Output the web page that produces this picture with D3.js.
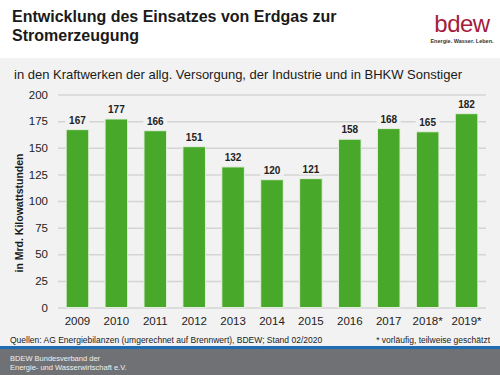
<!DOCTYPE html>
<html>
<head>
<meta charset="utf-8">
<script src="https://cdn.jsdelivr.net/npm/d3@7"></script>
<style>
  body { margin: 0; padding: 0; }
  svg { display: block; font-family: "Liberation Sans", Arial, sans-serif; }
</style>
</head>
<body>
<div id="chart-area"></div>
<script>
var years = ["2009", "2010", "2011", "2012", "2013", "2014", "2015", "2016", "2017", "2018*", "2019*"];
var values = [167, 177, 166, 151, 132, 120, 121, 158, 168, 165, 182];
var yTicks = [0, 25, 50, 75, 100, 125, 150, 175, 200];

var W = 500, H = 375;
var margin = { top: 94.5, right: 14, bottom: 67.5, left: 58 };

var svg = d3.select("#chart-area").append("svg")
    .attr("width", W)
    .attr("height", H);

// backgrounds
svg.append("rect").attr("width", W).attr("height", H).attr("fill", "#ffffff");
svg.append("rect").attr("x", 0).attr("y", 58).attr("width", W).attr("height", 290).attr("fill", "#f2f2f2");
svg.append("rect").attr("x", 0).attr("y", 346).attr("width", W).attr("height", 3).attr("fill", "#1f6db5");
svg.append("rect").attr("x", 0).attr("y", 349).attr("width", W).attr("height", 26).attr("fill", "#6f7175");

// title
svg.append("text").attr("x", 12).attr("y", 22)
    .attr("font-size", 16).attr("font-weight", "bold").attr("fill", "#1a1a1a")
    .text("Entwicklung des Einsatzes von Erdgas zur");
svg.append("text").attr("x", 12).attr("y", 41)
    .attr("font-size", 16).attr("font-weight", "bold").attr("fill", "#1a1a1a")
    .text("Stromerzeugung");

// logo
svg.append("text").attr("x", 462).attr("y", 32).attr("text-anchor", "middle")
    .attr("font-size", 24).attr("fill", "#a51c3d").attr("letter-spacing", -0.5)
    .text("bdew");
svg.append("text").attr("x", 462).attr("y", 43).attr("text-anchor", "middle")
    .attr("font-size", 5.5).attr("font-weight", "bold").attr("fill", "#333")
    .text("Energie. Wasser. Leben.");

// subtitle
svg.append("text").attr("x", 14).attr("y", 79)
    .attr("font-size", 13).attr("fill", "#1a1a1a")
    .text("in den Kraftwerken der allg. Versorgung, der Industrie und in BHKW Sonstiger");

var width = W - margin.left - margin.right;
var height = H - margin.top - margin.bottom;

var g = svg.append("g")
    .attr("transform", "translate(" + margin.left + "," + margin.top + ")");

var x = d3.scaleBand()
    .domain(years)
    .range([0, width])
    .paddingInner(0.42)
    .paddingOuter(0.21);

var y = d3.scaleLinear()
    .domain([0, 200])
    .range([height, 0]);

// grid + y labels
var yAxis = g.append("g")
    .call(d3.axisLeft(y).tickValues(yTicks).tickSize(-width).tickPadding(10));
yAxis.select(".domain").remove();
yAxis.selectAll(".tick line").attr("stroke", "#d4d4d4").attr("stroke-width", 1.5);
yAxis.selectAll(".tick text").attr("font-size", 11.5).attr("fill", "#222")
    .attr("font-family", "Liberation Sans, Arial, sans-serif");

// x labels
var xAxis = g.append("g")
    .attr("transform", "translate(0," + height + ")")
    .call(d3.axisBottom(x).tickSize(0).tickPadding(9));
xAxis.select(".domain").remove();
xAxis.selectAll(".tick text").attr("font-size", 11.5).attr("fill", "#222")
    .attr("font-family", "Liberation Sans, Arial, sans-serif");

// bars
g.selectAll(".bar")
    .data(values)
    .enter().append("rect")
    .attr("class", "bar")
    .attr("x", function (d, i) { return x(years[i]); })
    .attr("y", function (d) { return y(d); })
    .attr("width", x.bandwidth())
    .attr("height", function (d) { return height - y(d); })
    .attr("fill", "#48a82a")
    .attr("stroke", "#e4f0de")
    .attr("stroke-width", 1);

// value labels with background
var labels = g.selectAll(".lbl")
    .data(values)
    .enter().append("g")
    .attr("class", "lbl")
    .attr("transform", function (d, i) {
        return "translate(" + (x(years[i]) + x.bandwidth() / 2) + "," + (y(d) - 6) + ")";
    });
labels.append("rect")
    .attr("x", -12).attr("y", -10).attr("width", 24).attr("height", 12)
    .attr("fill", "#f2f2f2");
labels.append("text")
    .attr("text-anchor", "middle")
    .attr("font-size", 10).attr("font-weight", "bold").attr("fill", "#222")
    .text(function (d) { return d; });

// y axis title
svg.append("text")
    .attr("transform", "translate(23,213) rotate(-90)")
    .attr("text-anchor", "middle")
    .attr("font-size", 10.5).attr("font-weight", "bold").attr("fill", "#1a1a1a")
    .text("in Mrd. Kilowattstunden");

// sources
svg.append("text").attr("x", 10).attr("y", 343)
    .attr("font-size", 8.5).attr("fill", "#1a1a1a")
    .text("Quellen: AG Energiebilanzen (umgerechnet auf Brennwert), BDEW; Stand 02/2020");
svg.append("text").attr("x", 490).attr("y", 343).attr("text-anchor", "end")
    .attr("font-size", 8.5).attr("fill", "#1a1a1a")
    .text("* vorläufig, teilweise geschätzt");

// footer
svg.append("text").attr("x", 10).attr("y", 361)
    .attr("font-size", 7.5).attr("fill", "#f0f0f0")
    .text("BDEW Bundesverband der");
svg.append("text").attr("x", 10).attr("y", 370)
    .attr("font-size", 7.5).attr("fill", "#f0f0f0")
    .text("Energie- und Wasserwirtschaft e.V.");
</script>
</body>
</html>
